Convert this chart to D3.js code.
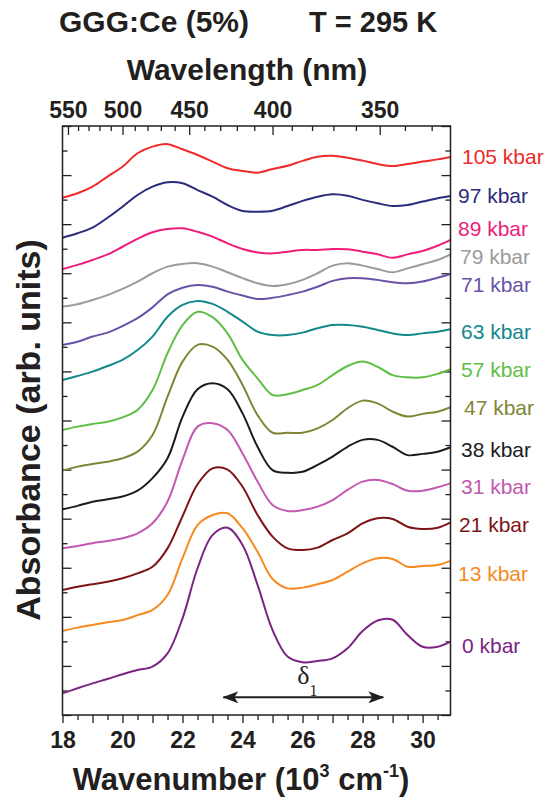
<!DOCTYPE html>
<html>
<head>
<meta charset="utf-8">
<script src="https://cdn.jsdelivr.net/npm/d3@7"></script>
<style>
  body { margin: 0; background: #fff; }
  svg text { font-family: "Liberation Sans", Arial, Helvetica, sans-serif; fill: #231f20; }
  .tick line { stroke: #231f20; stroke-width: 1.3; }
</style>
</head>
<body>
<div id="chart"></div>
<script>
// wavenumber grid (10^3 cm^-1) shared by all spectra
const wavenumber = [18, 18.5, 19, 19.5, 20, 20.5, 21, 21.5, 22, 22.5, 23, 23.5, 24, 24.5, 25,
  25.5, 26, 26.5, 27, 27.5, 28, 28.5, 29, 29.5, 30, 30.5, 30.93];

// absorbance (arb. units, curves already offset)
const abs105 = [21.08, 21.26, 21.53, 21.94, 22.34, 22.89, 23.16, 23.26, 23.05, 22.82, 22.55, 22.28, 22.17, 22.10, 22.25, 22.38, 22.58, 22.75, 22.79, 22.71, 22.59, 22.45, 22.37, 22.45, 22.55, 22.64, 22.74];
const abs97 = [19.45, 19.63, 19.86, 20.26, 20.71, 21.19, 21.53, 21.71, 21.67, 21.39, 21.12, 20.78, 20.54, 20.51, 20.55, 20.74, 20.95, 21.12, 21.22, 21.16, 20.99, 20.85, 20.74, 20.78, 20.92, 21.06, 21.15];
const abs89 = [18.17, 18.34, 18.54, 18.77, 19.08, 19.40, 19.67, 19.80, 19.83, 19.69, 19.49, 19.22, 18.99, 18.85, 18.81, 18.88, 18.95, 18.95, 18.99, 18.98, 18.88, 18.77, 18.63, 18.77, 18.91, 19.12, 19.36];
const abs79 = [16.64, 16.74, 16.91, 17.11, 17.36, 17.66, 18.00, 18.27, 18.38, 18.41, 18.27, 18.04, 17.80, 17.59, 17.48, 17.55, 17.73, 18.00, 18.31, 18.41, 18.31, 18.17, 18.04, 18.20, 18.37, 18.54, 18.77];
const abs71 = [15.08, 15.21, 15.42, 15.58, 15.85, 16.17, 16.61, 17.14, 17.41, 17.52, 17.45, 17.25, 17.09, 16.95, 17.00, 17.11, 17.25, 17.45, 17.69, 17.80, 17.80, 17.73, 17.63, 17.59, 17.66, 17.82, 17.97];
const abs63 = [13.65, 13.81, 13.99, 14.22, 14.47, 14.87, 15.42, 16.23, 16.71, 16.87, 16.75, 16.43, 16.03, 15.62, 15.48, 15.48, 15.58, 15.76, 15.89, 15.89, 15.82, 15.69, 15.55, 15.48, 15.55, 15.62, 15.72];
const abs57 = [11.61, 11.75, 11.86, 11.95, 12.13, 12.43, 13.24, 14.74, 15.89, 16.43, 16.21, 15.55, 14.47, 13.72, 13.04, 13.07, 13.24, 13.45, 13.85, 14.22, 14.40, 14.19, 13.85, 13.76, 13.76, 13.90, 14.09];
const abs47 = [9.96, 10.12, 10.23, 10.32, 10.46, 10.73, 11.41, 12.97, 14.40, 15.08, 15.01, 14.47, 13.45, 12.22, 11.50, 11.50, 11.50, 11.68, 12.02, 12.50, 12.81, 12.70, 12.36, 12.16, 12.27, 12.36, 12.54];
const abs38 = [8.38, 8.52, 8.69, 8.79, 8.90, 9.14, 9.65, 10.46, 12.15, 13.27, 13.52, 13.27, 12.29, 10.93, 9.98, 9.87, 9.91, 10.19, 10.53, 10.93, 11.21, 11.21, 10.93, 10.59, 10.64, 10.73, 10.91];
const abs31 = [6.79, 6.89, 7.00, 7.09, 7.20, 7.40, 7.81, 8.70, 10.40, 11.75, 11.89, 11.61, 10.66, 9.51, 8.56, 8.31, 8.35, 8.49, 8.76, 9.17, 9.51, 9.58, 9.41, 9.14, 9.14, 9.28, 9.44];
const abs21 = [5.09, 5.23, 5.33, 5.43, 5.57, 5.77, 6.04, 6.79, 8.10, 9.40, 10.05, 10.00, 9.30, 8.15, 7.27, 6.79, 6.72, 6.82, 7.13, 7.40, 7.81, 8.02, 7.99, 7.67, 7.58, 7.63, 7.85];
const abs13 = [3.42, 3.56, 3.67, 3.78, 3.87, 4.07, 4.28, 4.89, 6.39, 7.74, 8.15, 8.22, 7.61, 6.65, 5.54, 5.16, 5.19, 5.33, 5.50, 5.84, 6.18, 6.39, 6.36, 6.04, 6.07, 6.11, 6.28];
const abs0 = [0.88, 1.09, 1.29, 1.47, 1.66, 1.83, 1.97, 2.51, 3.94, 5.98, 7.33, 7.63, 6.93, 5.30, 3.46, 2.38, 2.15, 2.20, 2.31, 2.72, 3.42, 3.85, 3.88, 3.26, 2.78, 2.78, 2.99];

const pressures = ["105 kbar", "97 kbar", "89 kbar", "79 kbar", "71 kbar", "63 kbar", "57 kbar",
  "47 kbar", "38 kbar", "31 kbar", "21 kbar", "13 kbar", "0 kbar"];
const spectra = [abs105, abs97, abs89, abs79, abs71, abs63, abs57, abs47, abs38, abs31, abs21, abs13, abs0];

// tick labels
const wavenumberLabels = [18, 20, 22, 24, 26, 28, 30];
const wavelengthLabels = [550, 500, 450, 400, 350];
const wavelengthMinor = [540, 530, 520, 510, 490, 480, 470, 460, 440, 430, 420, 410, 390, 380, 370, 360, 340, 330];

// delta_1 arrow between the two 0 kbar band maxima
const deltaFrom = 23.36, deltaTo = 28.69;

// styles
const colors = ["#ee2a2a", "#2b2c7c", "#ee1d7a", "#9b9b9b", "#6a52a8", "#13898b", "#5fbf45",
  "#808536", "#1c1c1c", "#c359b0", "#7e1417", "#f7891f", "#7b2482"];
const labelBaseline = [164, 203, 236, 264, 292, 339, 377, 415, 457, 494, 532, 581, 653];
const labelX = [462, 458, 458, 460, 461, 461, 461, 464, 461, 461, 459, 458, 462];

const W = 554, H = 800;
const X0 = 62.5, X1 = 450.5, Y0 = 715, Y1 = 126;

const svg = d3.select("#chart").append("svg").attr("width", W).attr("height", H);

const x = d3.scaleLinear().domain([18, 30.93]).range([X0, X1]);
const y = d3.scaleLinear().domain([0, 24]).range([Y0, Y1]);

svg.append("defs").append("clipPath").attr("id", "plot")
  .append("rect").attr("x", X0).attr("y", Y1).attr("width", X1 - X0).attr("height", Y0 - Y1);

// bottom axis (ticks outward)
const bottomMinor = d3.range(18.5, 31, 1);
const bottomMajor = d3.range(18, 31, 1);
svg.append("g").attr("transform", `translate(0,${Y0})`)
  .call(d3.axisBottom(x).tickValues(bottomMinor).tickSize(5).tickFormat(""))
  .call(g => g.select(".domain").remove());
svg.append("g").attr("transform", `translate(0,${Y0})`)
  .call(d3.axisBottom(x).tickValues(bottomMajor).tickSize(8).tickPadding(8.5)
    .tickFormat(d => wavenumberLabels.includes(d) ? d : ""))
  .call(g => g.select(".domain").remove())
  .selectAll("text").style("font-size", "23px").style("font-weight", "bold").attr("fill", "#231f20");

// top axis: wavelength (nm), ticks inward
svg.append("g").attr("transform", `translate(0,${Y1})`)
  .call(d3.axisTop(x).tickValues(wavelengthMinor.map(l => 1e4 / l)).tickSize(-5).tickFormat(""))
  .call(g => g.select(".domain").remove());
svg.append("g").attr("transform", `translate(0,${Y1})`)
  .call(d3.axisTop(x).tickValues(wavelengthLabels.map(l => 1e4 / l)).tickSize(-9).tickPadding(8)
    .tickFormat(d => Math.round(1e4 / d)))
  .call(g => g.select(".domain").remove())
  .selectAll("text").style("font-size", "23px").style("font-weight", "bold").attr("fill", "#231f20");

// left and right axes, ticks inward, no labels
const yMajor = d3.range(0, 25, 2), yMinor = d3.range(1, 24, 2);
[[d3.axisLeft, X0], [d3.axisRight, X1]].forEach(([ax, pos]) => {
  svg.append("g").attr("transform", `translate(${pos},0)`)
    .call(ax(y).tickValues(yMinor).tickSize(-5).tickFormat(""))
    .call(g => g.select(".domain").remove());
  svg.append("g").attr("transform", `translate(${pos},0)`)
    .call(ax(y).tickValues(yMajor).tickSize(-9).tickFormat(""))
    .call(g => g.select(".domain").remove());
});

// spectra
const line = d3.line()
  .x((d, i) => x(wavenumber[i]))
  .y(d => y(d))
  .curve(d3.curveCatmullRom.alpha(0.5));

svg.append("g").attr("clip-path", "url(#plot)")
  .selectAll("path")
  .data(spectra)
  .join("path")
  .attr("d", line)
  .attr("fill", "none")
  .attr("stroke", (d, i) => colors[i])
  .attr("stroke-width", 2)
  .attr("stroke-linejoin", "round");

// frame
svg.append("rect")
  .attr("x", X0).attr("y", Y1).attr("width", X1 - X0).attr("height", Y0 - Y1)
  .attr("fill", "none").attr("stroke", "#231f20").attr("stroke-width", 1.5);

// pressure labels
svg.append("g").selectAll("text")
  .data(pressures)
  .join("text")
  .attr("x", (d, i) => labelX[i])
  .attr("y", (d, i) => labelBaseline[i])
  .style("font-size", "21px")
  .style("fill", (d, i) => colors[i])
  .text(d => d);

// delta_1 arrow
svg.select("defs").append("marker")
  .attr("id", "head").attr("viewBox", "0 -6 16 12")
  .attr("refX", 15).attr("refY", 0)
  .attr("markerWidth", 16).attr("markerHeight", 12)
  .attr("markerUnits", "userSpaceOnUse")
  .attr("orient", "auto-start-reverse")
  .append("path").attr("d", "M0,-6L16,0L0,6L4,0Z").attr("fill", "#231f20");

svg.append("line")
  .attr("x1", x(deltaFrom)).attr("x2", x(deltaTo))
  .attr("y1", y(0.72)).attr("y2", y(0.72))
  .attr("stroke", "#231f20").attr("stroke-width", 2)
  .attr("marker-start", "url(#head)").attr("marker-end", "url(#head)");

const delta = svg.append("text")
  .attr("x", x((deltaFrom + deltaTo) / 2) - 6).attr("y", 684)
  .style("font-family", "'Liberation Serif', 'Times New Roman', serif")
  .style("font-size", "26px");
delta.append("tspan").text("δ");
delta.append("tspan").attr("dy", 12).style("font-size", "16px").text("1");

// titles
svg.append("text").attr("x", 59).attr("y", 32)
  .style("font-size", "30px").style("font-weight", "bold").text("GGG:Ce (5%)");
svg.append("text").attr("x", 309).attr("y", 32)
  .style("font-size", "29px").style("font-weight", "bold").text("T = 295 K");
svg.append("text").attr("x", 247).attr("y", 80).attr("text-anchor", "middle")
  .style("font-size", "30px").style("font-weight", "bold").text("Wavelength (nm)");

const xt = svg.append("text").attr("x", 241).attr("y", 790).attr("text-anchor", "middle")
  .style("font-size", "31px").style("font-weight", "bold");
xt.append("tspan").text("Wavenumber (10");
xt.append("tspan").attr("dy", -13).style("font-size", "18px").text("3");
xt.append("tspan").attr("dy", 13).text(" cm");
xt.append("tspan").attr("dy", -13).style("font-size", "18px").text("-1");
xt.append("tspan").attr("dy", 13).text(")");

svg.append("text")
  .attr("transform", "translate(40,430) rotate(-90)")
  .attr("text-anchor", "middle")
  .style("font-size", "34px").style("font-weight", "bold")
  .text("Absorbance (arb. units)");
</script>
</body>
</html>
